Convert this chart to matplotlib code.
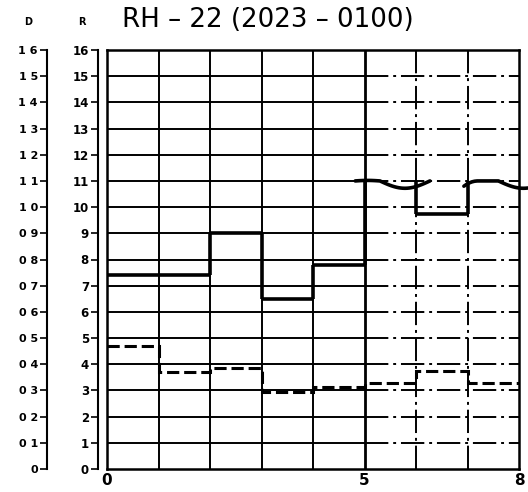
import numpy as np
import matplotlib
matplotlib.use("Agg")
import matplotlib.pyplot as plt

# ---- data ----
x_edges = [0, 1, 2, 3, 4, 5, 6, 7, 8]
r_values = [7.4, 7.4, 9.0, 6.5, 7.8, 11.0, 9.75, 11.0]          # solid step (R scale)
r_offscale = [False, False, False, False, False, True, False, True]
d_values = [0.47, 0.37, 0.385, 0.295, 0.315, 0.33, 0.375, 0.33]  # dashed step (D scale)
x_tick_vals = [0, 5, 8]
x_tick_labels = ["0", "5", "8"]
r_ticks = list(range(0, 17))
r_tick_labels = [str(v) for v in r_ticks]
d_ticks = [i / 10 for i in range(0, 17)]
d_tick_labels = ["0", "0 1", "0 2", "0 3", "0 4", "0 5", "0 6", "0 7", "0 8", "0 9",
                 "1 0", "1 1", "1 2", "1 3", "1 4", "1 5", "1 6"]
title = "RH – 22 (2023 – 0100)"

W, H = 528, 492
fig = plt.figure(figsize=(W / 100, H / 100), dpi=100)
L, R_, B, T = 107, 519, 469, 50
ax = fig.add_axes([L / W, (H - B) / H, (R_ - L) / W, (B - T) / H])
ax.set_xlim(0, 8)
ax.set_ylim(0, 16)

# frame
for s in ax.spines.values():
    s.set_linewidth(1.8)
    s.set_color("black")

# grid: solid up to x=5, dash-dot beyond
gl = 1.4
dashdot = (0, (12, 2.5, 1.5, 2.5))
for y in range(1, 16):
    ax.hlines(y, 0, 5, colors="black", lw=gl, zorder=1)
    ax.hlines(y, 5, 8, colors="black", lw=gl, linestyles=dashdot, zorder=1)
for x in [1, 2, 3, 4]:
    ax.vlines(x, 0, 16, colors="black", lw=gl, zorder=1)
ax.vlines(5, 0, 16, colors="black", lw=2.0, zorder=1)
for x in [6, 7]:
    ax.vlines(x, 0, 16, colors="black", lw=gl, linestyles=dashdot, zorder=1)

# dashed D series (plotted on R scale, x10)
ax.stairs([d * 10 for d in d_values], x_edges, baseline=None, color="black",
          lw=2.2, linestyle=(0, (4, 1.6)), zorder=3)

# solid R series with break symbols for off-scale segments
lw_s = 2.6
for i, v in enumerate(r_values):
    x0, x1 = x_edges[i], x_edges[i + 1]
    if not r_offscale[i]:
        ax.hlines(v, x0, x1, colors="black", lw=lw_s, zorder=4)
    if i > 0:
        pv = r_values[i - 1]
        ax.vlines(x0, min(pv, v), max(pv, v), colors="black", lw=lw_s, zorder=4)


def break_wave(x0, first):
    if first:
        xa = np.linspace(x0 - 0.18, x0 + 0.3, 10)
        ya = np.full_like(xa, v_break) + 0.02 * np.sin(np.pi * (xa - xa[0]) / (xa[-1] - xa[0]))
    else:
        xa = np.linspace(x0 - 0.07, x0 + 0.6, 14)
        ya = v_break - 0.2 * np.clip(1 - (xa - xa[0]) / 0.27, 0, 1) ** 2
    xb = np.linspace(x0 + (0.3 if first else 0.6), x0 + (1.27 if first else 1.17), 30)
    yb = v_break - 0.28 * np.sin(np.pi * (xb - xb[0]) / 0.97)
    xs = np.concatenate([xa, xb])
    ys = np.concatenate([ya, yb])
    ax.plot(xs, ys, color="black", lw=lw_s, clip_on=False, zorder=4,
            solid_capstyle="round")


v_break = 11.0
first = True
for i, off in enumerate(r_offscale):
    if off:
        break_wave(x_edges[i], first)
        first = False

# x ticks
ax.set_xticks(x_tick_vals)
ax.set_xticklabels(x_tick_labels, fontsize=11, fontweight="bold")
ax.tick_params(axis="x", length=0, pad=3)
ax.set_yticks([])

# R axis
secR = ax.secondary_yaxis(-9 / (R_ - L))
secR.set_yticks(r_ticks)
secR.set_yticklabels(r_tick_labels, fontsize=8.5, fontweight="bold")
secR.tick_params(axis="y", length=5, width=1.2, pad=1.5, direction="out")
secR.spines["left"].set_linewidth(1.5)

# D axis
secD = ax.secondary_yaxis(-60 / (R_ - L), functions=(lambda y: y / 10, lambda d: d * 10))
secD.set_yticks(d_ticks)
secD.set_yticklabels(d_tick_labels, fontsize=8, fontweight="bold")
secD.tick_params(axis="y", length=5, width=1.2, pad=1.5, direction="out")
secD.spines["left"].set_linewidth(1.5)

fig.text(28 / W, 1 - 22 / H, "D", fontsize=7, fontweight="bold", ha="center", va="center")
fig.text(82 / W, 1 - 22 / H, "R", fontsize=7, fontweight="bold", ha="center", va="center")
fig.text(122 / W, 1 - 20 / H, title, fontsize=18.8, ha="left", va="center")

fig.savefig("out.png", dpi=100)
